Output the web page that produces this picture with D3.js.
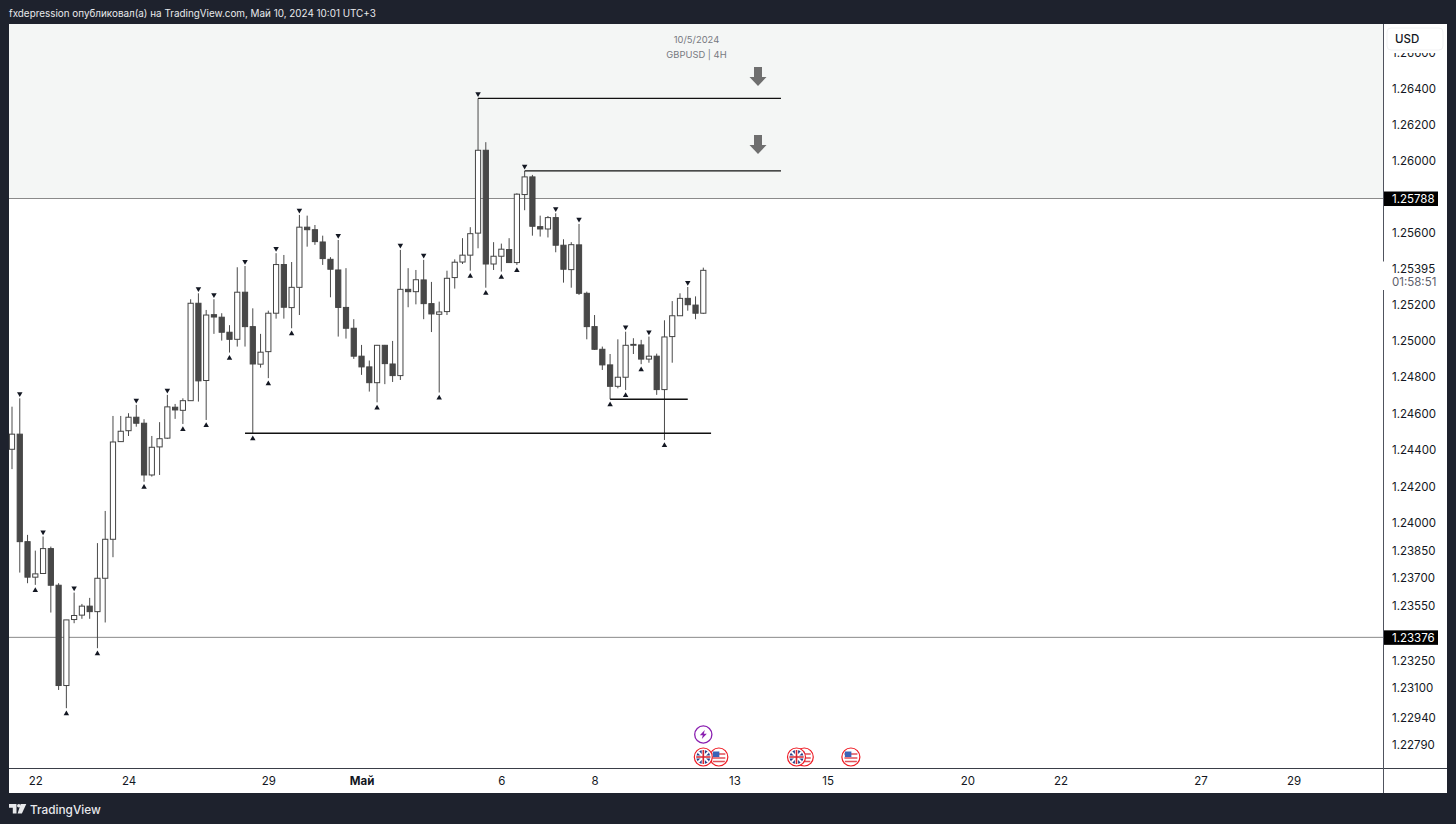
<!DOCTYPE html>
<html>
<head>
<meta charset="utf-8">
<script src="https://cdn.jsdelivr.net/npm/d3@7"></script>
<style>
  html, body { margin: 0; padding: 0; background: #1e222d; overflow: hidden; }
  svg { display: block; }
  text { font-family: Inter, "Liberation Sans", sans-serif; }
</style>
</head>
<body>
<svg id="chart" width="1456" height="824"></svg>
<script>
// 4H candles, oldest first
var opens = [
  1.24404,1.24487,1.23898,1.23704,1.23724,1.23860,1.23660,1.23114,1.23473,1.23497,
  1.23546,1.23516,1.23698,1.23911,1.24446,1.24506,1.24580,1.24547,1.24263,1.24417,
  1.24465,1.24635,1.24618,1.24671,1.25208,1.24782,1.25145,1.25131,1.25048,1.25009,
  1.25269,1.25079,1.24872,1.24941,1.25153,1.25422,1.25184,1.25296,1.25629,1.25615,
  1.25547,1.25451,1.25392,1.25185,1.25070,1.24916,1.24857,1.24770,1.24976,1.24873,
  1.24809,1.25285,1.25272,1.25337,1.25206,1.25147,1.25162,1.25350,1.25436,1.25474,
  1.25596,1.26056,1.25425,1.25468,1.25505,1.25433,1.25810,1.25908,1.25632,1.25619,
  1.25682,1.25529,1.25394,1.25531,1.25263,1.25079,1.24954,1.24868,1.24750,1.24800,
  1.24976,1.24978,1.24900,1.24916,1.24732,1.25024,1.25139,1.25235,1.25198,1.25153
];
var highs = [
  1.24638,1.24684,1.23935,1.23849,1.23926,1.23871,1.23671,1.23471,1.23620,1.23558,
  1.23591,1.23890,1.24066,1.24587,1.24587,1.24602,1.24648,1.24569,1.24477,1.24553,
  1.24703,1.24653,1.24684,1.25230,1.25263,1.25171,1.25230,1.25153,1.25087,1.25407,
  1.25414,1.25180,1.25039,1.25167,1.25485,1.25475,1.25436,1.25697,1.25693,1.25641,
  1.25582,1.25463,1.25558,1.25402,1.25120,1.24978,1.24892,1.24978,1.24978,1.25000,
  1.25503,1.25402,1.25392,1.25448,1.25326,1.25217,1.25388,1.25451,1.25568,1.25629,
  1.26345,1.26101,1.25546,1.25538,1.25568,1.25817,1.25941,1.25919,1.25693,1.25691,
  1.25706,1.25562,1.25546,1.25647,1.25272,1.25143,1.24969,1.24928,1.25009,1.25051,
  1.25015,1.25006,1.25024,1.24930,1.25114,1.25220,1.25263,1.25298,1.25246,1.25405
];
var lows = [
  1.24295,1.23729,1.23671,1.23662,1.23724,1.23511,1.23090,1.22991,1.23453,1.23477,
  1.23477,1.23317,1.23457,1.23813,1.24446,1.24477,1.24528,1.24226,1.24254,1.24263,
  1.24461,1.24571,1.24543,1.24671,1.24666,1.24565,1.25039,1.25002,1.24936,1.24969,
  1.24969,1.24492,1.24853,1.24795,1.25123,1.25123,1.25070,1.25143,1.25521,1.25531,
  1.25420,1.25241,1.25024,1.25013,1.24901,1.24813,1.24721,1.24662,1.24762,1.24774,
  1.24785,1.25186,1.25202,1.25120,1.25049,1.24716,1.25143,1.25289,1.25425,1.25388,
  1.25512,1.25294,1.25392,1.25383,1.25433,1.25420,1.25723,1.25582,1.25577,1.25572,
  1.25490,1.25322,1.25294,1.25254,1.25009,1.24950,1.24840,1.24679,1.24739,1.24730,
  1.24928,1.24872,1.24880,1.24703,1.24455,1.24880,1.25139,1.25167,1.25120,1.25149
];
var closes = [
  1.24487,1.23898,1.23704,1.23722,1.23860,1.23660,1.23114,1.23471,1.23495,1.23546,
  1.23516,1.23698,1.23911,1.24444,1.24503,1.24580,1.24547,1.24263,1.24415,1.24462,
  1.24637,1.24620,1.24671,1.25208,1.24780,1.25143,1.25132,1.25048,1.25009,1.25269,
  1.25079,1.24873,1.24938,1.25153,1.25422,1.25186,1.25296,1.25629,1.25615,1.25549,
  1.25455,1.25396,1.25185,1.25070,1.24916,1.24857,1.24770,1.24976,1.24875,1.24809,
  1.25285,1.25272,1.25338,1.25206,1.25149,1.25160,1.25346,1.25435,1.25474,1.25593,
  1.26056,1.25425,1.25468,1.25507,1.25433,1.25812,1.25908,1.25634,1.25619,1.25682,
  1.25529,1.25396,1.25532,1.25263,1.25079,1.24954,1.24868,1.24750,1.24800,1.24976,
  1.24981,1.24900,1.24916,1.24732,1.25022,1.25139,1.25235,1.25200,1.25153,1.25390
];

// swing markers, candle numbers
var swingHighs = [1,4,8,16,20,24,26,30,34,37,42,50,53,60,66,70,73,79,82,87];
var swingLows = [3,7,11,17,22,25,28,31,33,36,47,55,59,61,63,65,77,79,81,84];

// drawn horizontal levels
var levelPrices = [1.26345, 1.25941, 1.24492, 1.24679];
var levelStarts = [60, 66, 30, 77];
var levelEnds = [99, 99, 90, 87];

// axis labels
var priceTicks = [1.266,1.264,1.262,1.26,1.256,1.252,1.25,1.248,1.246,1.244,1.242,1.24,1.2385,1.237,1.2355,1.2325,1.231,1.2294,1.2279];
var dateTickSlots = [3,15,33,45,63,75,93,105,123,135,153,165];
var dateTickLabels = ["22","24","29","Май","6","8","13","15","20","22","27","29"];

var upperPrice = 1.25788, lowerPrice = 1.23376, lastPrice = 1.25395;

// event badges, candle numbers
var ukEvents = [89, 101];
var usEvents = [91, 102, 108];
var newsEvents = [89];

var svg = d3.select("#chart");
var x = d3.scaleLinear().domain([0, 89]).range([12, 703.3]);
var y = d3.scaleLog().domain([1.264, 1.24]).range([88.5, 523]);

var plotLeft = 9, plotRight = 1383.5, plotTop = 24, plotBottom = 768, axisRight = 1447, panelBottom = 793;

// page panels
svg.append("rect").attr("width", 1456).attr("height", 824).attr("fill", "#1e222d");
svg.append("rect").attr("x", plotLeft).attr("y", plotTop).attr("width", axisRight - plotLeft).attr("height", panelBottom - plotTop).attr("fill", "#fff");

// grey zone above the upper level
svg.append("rect").attr("x", plotLeft).attr("y", plotTop).attr("width", plotRight - plotLeft).attr("height", y(upperPrice) - plotTop).attr("fill", "#f4f6f5");

svg.append("text").attr("x", 9).attr("y", 17).attr("fill", "#e8e9ec").attr("font-size", 9.9)
  .text("fxdepression опубликовал(а) на TradingView.com, Май 10, 2024 10:01 UTC+3");

// zone borders
[upperPrice, lowerPrice].forEach(function (p) {
  svg.append("line").attr("x1", plotLeft).attr("x2", plotRight).attr("y1", y(p)).attr("y2", y(p))
    .attr("stroke", "#8a8a8a").attr("stroke-width", 1);
});

// wicks
var candles = d3.range(opens.length);
svg.append("g").selectAll("line").data(candles).join("line")
  .attr("x1", d => x(d)).attr("x2", d => x(d))
  .attr("y1", d => y(highs[d])).attr("y2", d => y(lows[d]))
  .attr("stroke", "#4a4a4a").attr("stroke-width", 1);

// bodies
svg.append("g").selectAll("rect").data(candles).join("rect")
  .attr("x", d => x(d) - 2.6).attr("width", 5.2)
  .attr("y", d => y(Math.max(opens[d], closes[d])))
  .attr("height", d => Math.abs(y(opens[d]) - y(closes[d])))
  .attr("fill", d => closes[d] >= opens[d] ? "#fff" : "#484848")
  .attr("stroke", "#444").attr("stroke-width", 1);

// levels
svg.append("g").selectAll("line").data(levelPrices).join("line")
  .attr("x1", (d, i) => x(levelStarts[i])).attr("x2", (d, i) => x(levelEnds[i]))
  .attr("y1", d => y(d)).attr("y2", d => y(d))
  .attr("stroke", "#111").attr("stroke-width", 1.3);

// swing markers
var tri = d3.symbol(d3.symbolTriangle, 13);
svg.append("g").selectAll("path").data(swingHighs).join("path")
  .attr("d", tri).attr("fill", "#131722")
  .attr("transform", d => "translate(" + x(d) + "," + (y(highs[d]) - 4.5) + ") rotate(180)");
svg.append("g").selectAll("path").data(swingLows).join("path")
  .attr("d", tri).attr("fill", "#131722")
  .attr("transform", d => "translate(" + x(d) + "," + (y(lows[d]) + 5.5) + ")");

// note text and arrows
svg.append("text").attr("x", 696.5).attr("y", 43).attr("text-anchor", "middle").attr("font-size", 9.4).attr("fill", "#77797f").text("10/5/2024");
svg.append("text").attr("x", 696.5).attr("y", 58).attr("text-anchor", "middle").attr("font-size", 9.4).attr("fill", "#77797f").text("GBPUSD | 4H");

[67, 135].forEach(function (t) {
  svg.append("path")
    .attr("d", "M754,"+t+"h8v10h4.5l-8.5,9l-8.5,-9h4.5z")
    .attr("fill", "#6f6f6f");
});

// time axis
var xAxis = d3.axisBottom(x).tickValues(dateTickSlots).tickSize(0).tickPadding(0)
  .tickFormat((d, i) => dateTickLabels[i]);
var gx = svg.append("g").attr("transform", "translate(0," + plotBottom + ")").call(xAxis);
gx.select(".domain").remove();
gx.selectAll("text").attr("y", 9).attr("font-size", 11.5).attr("fill", "#131722")
  .style("font-family", "Inter, sans-serif")
  .attr("font-weight", (d, i) => dateTickLabels[i] === "Май" ? 700 : 400);

// price axis
var yAxis = d3.axisRight(y).tickValues(priceTicks).tickSize(0).tickPadding(0).tickFormat(d3.format(".5f"));
var gy = svg.append("g").attr("transform", "translate(1392,0)").call(yAxis);
gy.select(".domain").remove();
gy.selectAll("text").attr("font-size", 11.5).attr("fill", "#131722").style("font-family", "Inter, sans-serif");

// frame lines
svg.append("line").attr("x1", plotLeft).attr("x2", axisRight).attr("y1", plotBottom + 0.5).attr("y2", plotBottom + 0.5).attr("stroke", "#3a3e48");
svg.append("line").attr("x1", plotRight).attr("x2", plotRight).attr("y1", plotTop).attr("y2", panelBottom).attr("stroke", "#50535e");

// USD button covers most of the top tick
svg.append("rect").attr("x", 1384.5).attr("y", plotTop).attr("width", 62).attr("height", 29).attr("fill", "#fff");
svg.append("rect").attr("x", 1387).attr("y", 28).attr("width", 56).attr("height", 22).attr("rx", 4).attr("fill", "#fff").attr("stroke", "#f0f1f3");
svg.append("text").attr("x", 1395).attr("y", 43).attr("font-size", 11.5).attr("font-weight", 500).attr("fill", "#131722").text("USD");

// black level labels
[upperPrice, lowerPrice].forEach(function (p) {
  svg.append("rect").attr("x", 1384).attr("y", y(p) - 7).attr("width", 54).attr("height", 14.5).attr("fill", "#000");
  svg.append("text").attr("x", 1392).attr("y", y(p) + 4.2).attr("font-size", 11.5).attr("fill", "#fff").text(d3.format(".5f")(p));
});

// live price with countdown
svg.append("rect").attr("x", 1382.5).attr("y", 261.5).attr("width", 64).attr("height", 28.5).attr("fill", "#fff");
svg.append("text").attr("x", 1392).attr("y", y(lastPrice) + 4).attr("font-size", 11.5).attr("fill", "#131722").text(d3.format(".5f")(lastPrice));
svg.append("text").attr("x", 1392).attr("y", 286).attr("font-size", 11.5).attr("fill", "#5d606b").text("01:58:51");

// event badges
var badgeY = 757;
function ukFlag(g) {
  g.append("circle").attr("r", 7).attr("fill", "#27408b");
  g.append("path").attr("d", "M-5,-5L5,5M-5,5L5,-5").attr("stroke", "#fff").attr("stroke-width", 2);
  g.append("path").attr("d", "M0,-7V7M-7,0H7").attr("stroke", "#fff").attr("stroke-width", 3.2);
  g.append("path").attr("d", "M0,-7V7M-7,0H7").attr("stroke", "#d8232f").attr("stroke-width", 1.6);
}
function usFlag(g) {
  g.append("circle").attr("r", 7).attr("fill", "#fff");
  g.append("path").attr("d", "M-6.5,-3H6.5M-6.5,1H6.5M-6,4.5H6").attr("stroke", "#e0505a").attr("stroke-width", 1.6);
  g.append("rect").attr("x", -6).attr("y", -5.5).attr("width", 6.5).attr("height", 5.5).attr("fill", "#3a63b8");
}
function badge(cx, draw) {
  var g = svg.append("g").attr("transform", "translate(" + cx + "," + badgeY + ")");
  g.append("circle").attr("r", 9).attr("fill", "#fff").attr("stroke", "#ee1c25").attr("stroke-width", 1.2);
  draw(g);
}
usEvents.forEach(d => badge(x(d), usFlag));
ukEvents.forEach(d => badge(x(d), ukFlag));
newsEvents.forEach(function (d) {
  var g = svg.append("g").attr("transform", "translate(" + x(d) + ",734.5)");
  g.append("circle").attr("r", 8.6).attr("fill", "#fff").attr("stroke", "#8a1fb0").attr("stroke-width", 1.3);
  g.append("path").attr("d", "M1.5,-4.5L-3.5,0.8H-0.5L-1.5,4.5L3.5,-0.8H0.5Z").attr("fill", "#8a1fb0");
});

// footer logo
svg.append("path").attr("fill", "#e8e9ec")
  .attr("d", "M9,804h7.5v9.5h-3.7v-5.8h-3.8zM20.7,804l5.6,0l-4.4,9.5h-4.3z");
svg.append("circle").attr("cx", 18.8).attr("cy", 805.8).attr("r", 1.8).attr("fill", "#e8e9ec");
svg.append("text").attr("x", 30).attr("y", 813.5).attr("font-size", 11.8).attr("font-weight", 500).attr("fill", "#e8e9ec").text("TradingView");
</script>
</body>
</html>
